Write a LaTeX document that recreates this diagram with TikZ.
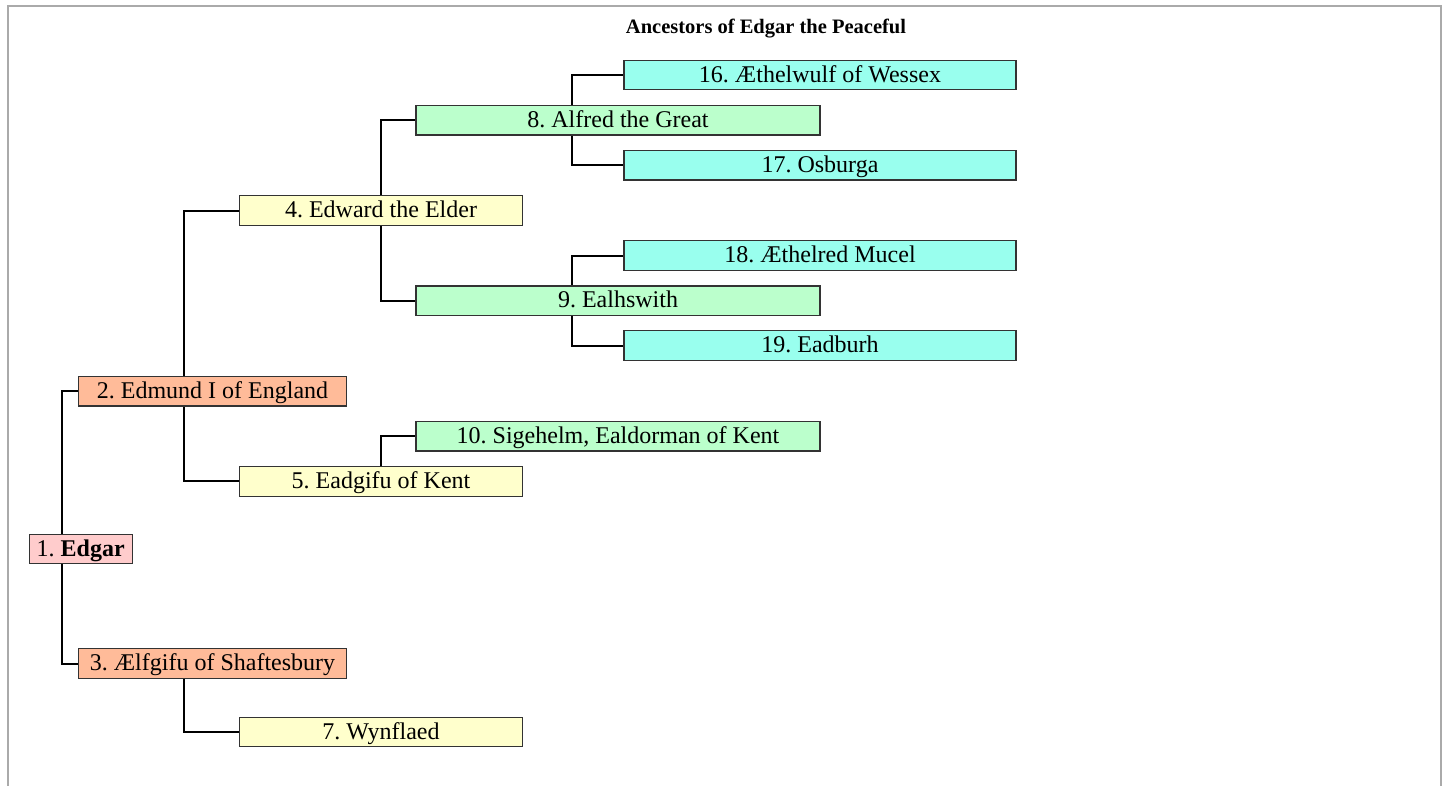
\documentclass[tikz,border=0pt]{standalone}
\usepackage{fontspec}
\setmainfont{Liberation Serif}
\usetikzlibrary{backgrounds}
\frenchspacing
\pgfdeclarelayer{paper}
\pgfsetlayers{paper,background,main}
\definecolor{gen1}{HTML}{FFCCCC}
\definecolor{gen2}{HTML}{FFBB99}
\definecolor{gen3}{HTML}{FFFFCC}
\definecolor{gen4}{HTML}{BBFFCC}
\definecolor{gen5}{HTML}{99FFEE}
\definecolor{framegray}{HTML}{AAAAAA}
\tikzset{
  person/.style={draw=black!80, line width=1.2bp, rectangle, inner sep=0pt,
    minimum height=29.5bp, text height=18bp, text depth=4bp,
    font=\fontsize{24bp}{28bp}\selectfont},
  g1/.style={person, fill=gen1, minimum width=103bp},
  g2/.style={person, fill=gen2, minimum width=267.5bp},
  g3/.style={person, fill=gen3, minimum width=283bp},
  g4/.style={person, fill=gen4, minimum width=404bp},
  g5/.style={person, fill=gen5, minimum width=392bp},
  conn/.style={draw=black, line width=2bp},
  titletext/.style={font=\fontsize{20.5bp}{24bp}\selectfont\bfseries, inner sep=0pt, anchor=base}
}
\begin{document}
\frenchspacing
\begin{tikzpicture}[x=1bp, y=-1bp]
\useasboundingbox (0,0) rectangle (1449,785);
\begin{pgfonlayer}{paper}
\fill[white] (0,0) rectangle (1449,785);
\draw[framegray, line width=1.5bp] (8,790) -- (8,6) -- (1441,6) -- (1441,790);
\end{pgfonlayer}

\node[titletext] (title) at (766,34) {Ancestors of Edgar the Peaceful};

% generation 5
\node[g5] (p16) at (820,75) {16. Æthelwulf of Wessex};
\node[g5] (p17) at (820,165.3) {17. Osburga};
\node[g5] (p18) at (820,255.5) {18. Æthelred Mucel};
\node[g5] (p19) at (820,345.6) {19. Eadburh};
% generation 4
\node[g4] (p8) at (618,120.2) {8. Alfred the Great};
\node[g4] (p9) at (618,300.8) {9. Ealhswith};
\node[g4] (p10) at (618,436.3) {10. Sigehelm, Ealdorman of Kent};
% generation 3
\node[g3] (p4) at (381,210.5) {4. Edward the Elder};
\node[g3] (p5) at (381,481.4) {5. Eadgifu of Kent};
\node[g3] (p7) at (381,732.1) {7. Wynflaed};
% generation 2
\node[g2] (p2) at (212.5,391.3) {2. Edmund I of England};
\node[g2] (p3) at (212.5,663.6) {3. Ælfgifu of Shaftesbury};
% generation 1
\node[g1] (p1) at (80.7,549) {1. \textbf{Edgar}};

\coordinate (v1) at (62,0);
\coordinate (v2) at (184,0);
\coordinate (v3) at (380.7,0);
\coordinate (v4) at (572,0);

\begin{scope}[on background layer]
\draw[conn] (p2.west) -- (p2.west -| v1) |- (p3.west);
\draw[conn] (p4.west) -- (p4.west -| v2) |- (p5.west);
\draw[conn] (p3.south -| v2) |- (p7.west);
\draw[conn] (p8.west) -- (p8.west -| v3) |- (p9.west);
\draw[conn] (p5.north -| v3) |- (p10.west);
\draw[conn] (p16.west) -- (p16.west -| v4) |- (p17.west);
\draw[conn] (p18.west) -- (p18.west -| v4) |- (p19.west);
\end{scope}
\end{tikzpicture}
\end{document}
